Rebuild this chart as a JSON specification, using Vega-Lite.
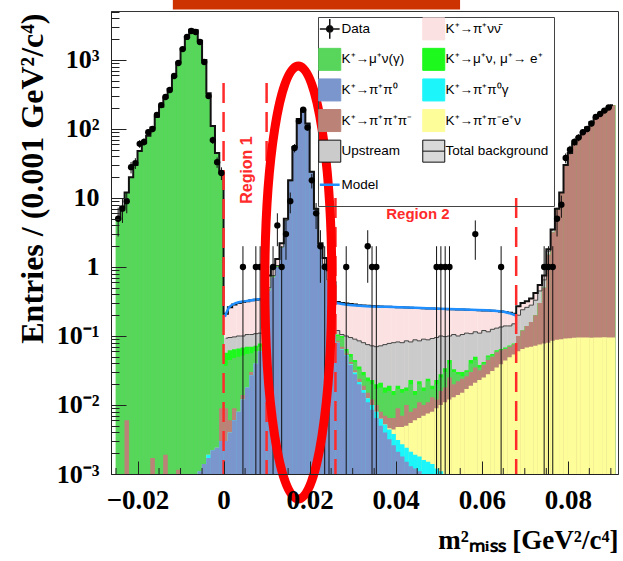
{
"$schema": "https://vega.github.io/schema/vega-lite/v6.json",
"width": 507, "height": 463,
"autosize": {"type": "none"},
"padding": {"left": 111, "top": 11, "right": 5, "bottom": 87},
"background": "white",
"config": {"view": {"stroke": "#333", "strokeWidth": 1}},
"datasets": {
"h": [
{"x":-0.0245,"c1":0,"c2":0,"c3":0,"c4":0,"c5":5,"c6":5,"c7":5,"c8":5},
{"x":-0.0235,"c1":0,"c2":0,"c3":0,"c4":0,"c5":7.5,"c6":7.5,"c7":7.5,"c8":7.5},
{"x":-0.0225,"c1":0,"c2":0,"c3":0,"c4":0.006,"c5":12,"c6":12,"c7":12,"c8":12},
{"x":-0.0215,"c1":0,"c2":0,"c3":0,"c4":0,"c5":20,"c6":20,"c7":20,"c8":20},
{"x":-0.0205,"c1":0,"c2":0,"c3":0,"c4":0,"c5":30,"c6":30,"c7":30,"c8":30},
{"x":-0.0195,"c1":0,"c2":0,"c3":0,"c4":0,"c5":48,"c6":48,"c7":48,"c8":48},
{"x":-0.0185,"c1":0,"c2":0,"c3":0,"c4":0,"c5":62,"c6":62,"c7":62,"c8":62},
{"x":-0.0175,"c1":0,"c2":0,"c3":0,"c4":0,"c5":80,"c6":80,"c7":80,"c8":80},
{"x":-0.0165,"c1":0,"c2":0,"c3":0,"c4":0.0017,"c5":105,"c6":105,"c7":105,"c8":105},
{"x":-0.0155,"c1":0,"c2":0,"c3":0,"c4":0,"c5":150,"c6":150,"c7":150,"c8":150},
{"x":-0.0145,"c1":0,"c2":0,"c3":0,"c4":0,"c5":210,"c6":210,"c7":210,"c8":210},
{"x":-0.0135,"c1":0,"c2":0,"c3":0,"c4":0.0019,"c5":285,"c6":285,"c7":285,"c8":285},
{"x":-0.0125,"c1":0,"c2":0,"c3":0,"c4":0,"c5":380,"c6":380,"c7":380,"c8":380},
{"x":-0.0115,"c1":0,"c2":0,"c3":0,"c4":0,"c5":580,"c6":580,"c7":580,"c8":580},
{"x":-0.0105,"c1":0,"c2":0,"c3":0,"c4":0.00115,"c5":920,"c6":920,"c7":920,"c8":920},
{"x":-0.0095,"c1":0,"c2":0,"c3":0,"c4":0,"c5":1450,"c6":1450,"c7":1450,"c8":1450},
{"x":-0.0085,"c1":0,"c2":0,"c3":0,"c4":0,"c5":2150,"c6":2150,"c7":2150,"c8":2150},
{"x":-0.0075,"c1":0,"c2":0,"c3":0,"c4":0,"c5":2750,"c6":2750,"c7":2750,"c8":2750},
{"x":-0.0065,"c1":0,"c2":0,"c3":0,"c4":0,"c5":2700,"c6":2700,"c7":2700,"c8":2700},
{"x":-0.0055,"c1":0.0011,"c2":0.0011,"c3":0.0011,"c4":0.0011,"c5":1900,"c6":1900,"c7":1900,"c8":1900},
{"x":-0.0045,"c1":0.0014,"c2":0.0014,"c3":0.0014,"c4":0.0014,"c5":1000,"c6":1000,"c7":1000,"c8":1000},
{"x":-0.0035,"c1":0.0017,"c2":0.0019,"c3":0.0019,"c4":0.0019,"c5":330,"c6":330,"c7":330,"c8":330},
{"x":-0.0025,"c1":0.0022,"c2":0.0022,"c3":0.0022,"c4":0.0022,"c5":110,"c6":110,"c7":110,"c8":110},
{"x":-0.0015,"c1":0.0024,"c2":0.0024,"c3":0.0024,"c4":0.0024,"c5":45,"c6":45,"c7":45,"c8":45},
{"x":-0.0005,"c1":0.003,"c2":0.003,"c3":0.003,"c4":0.009,"c5":23,"c6":23,"c7":23,"c8":23},
{"x":0.0005,"c1":0.003,"c2":0.003,"c3":0.003,"c4":0.009,"c5":0.037,"c6":0.057,"c7":0.093,"c8":0.21},
{"x":0.0015,"c1":0.004,"c2":0.004,"c3":0.004,"c4":0.006,"c5":0.045,"c6":0.062,"c7":0.095,"c8":0.26},
{"x":0.0025,"c1":0.006,"c2":0.006,"c3":0.006,"c4":0.009,"c5":0.048,"c6":0.064,"c7":0.097,"c8":0.285},
{"x":0.0035,"c1":0.008,"c2":0.008,"c3":0.008,"c4":0.008,"c5":0.05,"c6":0.066,"c7":0.1,"c8":0.3},
{"x":0.0045,"c1":0.012,"c2":0.012,"c3":0.012,"c4":0.014,"c5":0.052,"c6":0.068,"c7":0.1,"c8":0.31},
{"x":0.0055,"c1":0.018,"c2":0.018,"c3":0.018,"c4":0.018,"c5":0.055,"c6":0.07,"c7":0.105,"c8":0.32},
{"x":0.0065,"c1":0.027,"c2":0.027,"c3":0.027,"c4":0.03,"c5":0.056,"c6":0.07,"c7":0.105,"c8":0.33},
{"x":0.0075,"c1":0.04,"c2":0.04,"c3":0.04,"c4":0.04,"c5":0.06,"c6":0.072,"c7":0.108,"c8":0.335},
{"x":0.0085,"c1":0.06,"c2":0.06,"c3":0.06,"c4":0.06,"c5":0.07,"c6":0.078,"c7":0.11,"c8":0.34},
{"x":0.0095,"c1":0.15,"c2":0.15,"c3":0.15,"c4":0.15,"c5":0.16,"c6":0.165,"c7":0.19,"c8":0.45},
{"x":0.0105,"c1":0.45,"c2":0.45,"c3":0.45,"c4":0.46,"c5":0.47,"c6":0.48,"c7":0.5,"c8":0.75},
{"x":0.0115,"c1":0.7,"c2":0.7,"c3":0.7,"c4":0.71,"c5":0.72,"c6":0.73,"c7":0.75,"c8":1.0},
{"x":0.0125,"c1":1.0,"c2":1.0,"c3":1.0,"c4":1.01,"c5":1.02,"c6":1.03,"c7":1.05,"c8":1.3},
{"x":0.0135,"c1":1.9,"c2":1.9,"c3":1.9,"c4":1.91,"c5":1.92,"c6":1.93,"c7":1.95,"c8":2.2},
{"x":0.0145,"c1":4.7,"c2":4.7,"c3":4.7,"c4":4.71,"c5":4.72,"c6":4.73,"c7":4.75,"c8":5.0},
{"x":0.0155,"c1":17.7,"c2":17.7,"c3":17.7,"c4":17.7,"c5":17.7,"c6":17.7,"c7":17.75,"c8":18},
{"x":0.0165,"c1":54.7,"c2":54.7,"c3":54.7,"c4":54.7,"c5":54.7,"c6":54.7,"c7":54.75,"c8":55},
{"x":0.0175,"c1":139.7,"c2":139.7,"c3":139.7,"c4":139.7,"c5":139.7,"c6":139.7,"c7":139.75,"c8":140},
{"x":0.0185,"c1":189.7,"c2":189.7,"c3":189.7,"c4":189.7,"c5":189.7,"c6":189.7,"c7":189.75,"c8":190},
{"x":0.0195,"c1":119.7,"c2":119.7,"c3":119.7,"c4":119.7,"c5":119.7,"c6":119.7,"c7":119.75,"c8":120},
{"x":0.0205,"c1":23.7,"c2":23.7,"c3":23.7,"c4":23.7,"c5":23.7,"c6":23.7,"c7":23.75,"c8":24},
{"x":0.0215,"c1":6.7,"c2":6.7,"c3":6.7,"c4":6.71,"c5":6.72,"c6":6.73,"c7":6.75,"c8":7},
{"x":0.0225,"c1":1.9,"c2":1.9,"c3":1.9,"c4":1.91,"c5":1.92,"c6":1.93,"c7":1.95,"c8":2.2},
{"x":0.0235,"c1":1.05,"c2":1.05,"c3":1.05,"c4":1.06,"c5":1.07,"c6":1.08,"c7":1.1,"c8":1.35},
{"x":0.0245,"c1":0.6,"c2":0.6,"c3":0.6,"c4":0.61,"c5":0.62,"c6":0.63,"c7":0.65,"c8":0.9},
{"x":0.0255,"c1":0.3,"c2":0.3,"c3":0.3,"c4":0.31,"c5":0.32,"c6":0.33,"c7":0.35,"c8":0.6},
{"x":0.0265,"c1":0.08,"c2":0.08,"c3":0.08,"c4":0.085,"c5":0.1,"c6":0.105,"c7":0.12,"c8":0.31},
{"x":0.0275,"c1":0.063,"c2":0.064,"c3":0.064,"c4":0.07,"c5":0.095,"c6":0.1,"c7":0.105,"c8":0.3},
{"x":0.0285,"c1":0.052,"c2":0.053,"c3":0.053,"c4":0.056,"c5":0.06,"c6":0.065,"c7":0.1,"c8":0.295},
{"x":0.0295,"c1":0.038,"c2":0.039,"c3":0.039,"c4":0.042,"c5":0.05,"c6":0.055,"c7":0.095,"c8":0.29},
{"x":0.0305,"c1":0.028,"c2":0.0295,"c3":0.0295,"c4":0.032,"c5":0.042,"c6":0.045,"c7":0.09,"c8":0.285},
{"x":0.0315,"c1":0.02,"c2":0.0215,"c3":0.0215,"c4":0.024,"c5":0.033,"c6":0.036,"c7":0.085,"c8":0.28},
{"x":0.0325,"c1":0.015,"c2":0.0165,"c3":0.0165,"c4":0.019,"c5":0.027,"c6":0.03,"c7":0.08,"c8":0.277},
{"x":0.0335,"c1":0.011,"c2":0.0125,"c3":0.0125,"c4":0.015,"c5":0.022,"c6":0.025,"c7":0.075,"c8":0.274},
{"x":0.0345,"c1":0.0085,"c2":0.01,"c3":0.01,"c4":0.012,"c5":0.02,"c6":0.023,"c7":0.072,"c8":0.272},
{"x":0.0355,"c1":0.0065,"c2":0.008,"c3":0.008,"c4":0.01,"c5":0.017,"c6":0.02,"c7":0.07,"c8":0.27},
{"x":0.0365,"c1":0.005,"c2":0.0063,"c3":0.0063,"c4":0.008,"c5":0.018,"c6":0.021,"c7":0.072,"c8":0.268},
{"x":0.0375,"c1":0.004,"c2":0.0052,"c3":0.0052,"c4":0.007,"c5":0.015,"c6":0.018,"c7":0.075,"c8":0.266},
{"x":0.0385,"c1":0.0032,"c2":0.0044,"c3":0.0046,"c4":0.0065,"c5":0.016,"c6":0.019,"c7":0.078,"c8":0.265},
{"x":0.0395,"c1":0.0026,"c2":0.0038,"c3":0.0044,"c4":0.0065,"c5":0.014,"c6":0.016,"c7":0.08,"c8":0.263},
{"x":0.0405,"c1":0.0021,"c2":0.0031,"c3":0.0048,"c4":0.009,"c5":0.017,"c6":0.019,"c7":0.082,"c8":0.262},
{"x":0.0415,"c1":0.0018,"c2":0.0027,"c3":0.0048,"c4":0.007,"c5":0.015,"c6":0.017,"c7":0.08,"c8":0.26},
{"x":0.0425,"c1":0.0015,"c2":0.0024,"c3":0.005,"c4":0.01,"c5":0.016,"c6":0.018,"c7":0.085,"c8":0.258},
{"x":0.0435,"c1":0.0013,"c2":0.0021,"c3":0.0055,"c4":0.008,"c5":0.02,"c6":0.023,"c7":0.082,"c8":0.256},
{"x":0.0445,"c1":0.0012,"c2":0.0019,"c3":0.006,"c4":0.009,"c5":0.014,"c6":0.016,"c7":0.088,"c8":0.255},
{"x":0.0455,"c1":0.0011,"c2":0.0018,"c3":0.0065,"c4":0.011,"c5":0.02,"c6":0.022,"c7":0.085,"c8":0.254},
{"x":0.0465,"c1":0.0009,"c2":0.0016,"c3":0.007,"c4":0.01,"c5":0.016,"c6":0.018,"c7":0.09,"c8":0.252},
{"x":0.0475,"c1":0.0008,"c2":0.0015,"c3":0.0075,"c4":0.011,"c5":0.022,"c6":0.024,"c7":0.088,"c8":0.25},
{"x":0.0485,"c1":0.0007,"c2":0.0014,"c3":0.008,"c4":0.013,"c5":0.017,"c6":0.019,"c7":0.092,"c8":0.25},
{"x":0.0495,"c1":0.0006,"c2":0.0012,"c3":0.009,"c4":0.012,"c5":0.02,"c6":0.023,"c7":0.095,"c8":0.248},
{"x":0.0505,"c1":0.0005,"c2":0.0011,"c3":0.01,"c4":0.016,"c5":0.025,"c6":0.028,"c7":0.1,"c8":0.247},
{"x":0.0515,"c1":0.0004,"c2":0.001,"c3":0.011,"c4":0.018,"c5":0.03,"c6":0.034,"c7":0.098,"c8":0.246},
{"x":0.0525,"c1":0.0003,"c2":0.0008,"c3":0.012,"c4":0.025,"c5":0.04,"c6":0.045,"c7":0.1,"c8":0.245},
{"x":0.0535,"c1":0.0002,"c2":0.0006,"c3":0.013,"c4":0.02,"c5":0.03,"c6":0.033,"c7":0.105,"c8":0.244},
{"x":0.0545,"c1":0.0001,"c2":0.0004,"c3":0.014,"c4":0.022,"c5":0.028,"c6":0.03,"c7":0.1,"c8":0.243},
{"x":0.0555,"c1":0,"c2":0.0002,"c3":0.015,"c4":0.024,"c5":0.026,"c6":0.03,"c7":0.105,"c8":0.242},
{"x":0.0565,"c1":0,"c2":0,"c3":0.017,"c4":0.026,"c5":0.03,"c6":0.032,"c7":0.11,"c8":0.24},
{"x":0.0575,"c1":0,"c2":0,"c3":0.019,"c4":0.03,"c5":0.04,"c6":0.045,"c7":0.108,"c8":0.239},
{"x":0.0585,"c1":0,"c2":0,"c3":0.021,"c4":0.035,"c5":0.045,"c6":0.05,"c7":0.115,"c8":0.238},
{"x":0.0595,"c1":0,"c2":0,"c3":0.023,"c4":0.032,"c5":0.035,"c6":0.038,"c7":0.11,"c8":0.236},
{"x":0.0605,"c1":0,"c2":0,"c3":0.025,"c4":0.038,"c5":0.04,"c6":0.042,"c7":0.12,"c8":0.235},
{"x":0.0615,"c1":0,"c2":0,"c3":0.028,"c4":0.045,"c5":0.05,"c6":0.052,"c7":0.115,"c8":0.234},
{"x":0.0625,"c1":0,"c2":0,"c3":0.031,"c4":0.05,"c5":0.052,"c6":0.055,"c7":0.125,"c8":0.233},
{"x":0.0635,"c1":0,"c2":0,"c3":0.035,"c4":0.058,"c5":0.06,"c6":0.062,"c7":0.13,"c8":0.23},
{"x":0.0645,"c1":0,"c2":0,"c3":0.039,"c4":0.062,"c5":0.063,"c6":0.065,"c7":0.135,"c8":0.227},
{"x":0.0655,"c1":0,"c2":0,"c3":0.044,"c4":0.065,"c5":0.066,"c6":0.068,"c7":0.14,"c8":0.223},
{"x":0.0665,"c1":0,"c2":0,"c3":0.049,"c4":0.07,"c5":0.071,"c6":0.073,"c7":0.14,"c8":0.218},
{"x":0.0675,"c1":0,"c2":0,"c3":0.054,"c4":0.075,"c5":0.076,"c6":0.078,"c7":0.15,"c8":0.21},
{"x":0.0685,"c1":0,"c2":0,"c3":0.06,"c4":0.1,"c5":0.1,"c6":0.1,"c7":0.2,"c8":0.27},
{"x":0.0695,"c1":0,"c2":0,"c3":0.065,"c4":0.12,"c5":0.12,"c6":0.12,"c7":0.24,"c8":0.3},
{"x":0.0705,"c1":0,"c2":0,"c3":0.068,"c4":0.14,"c5":0.14,"c6":0.14,"c7":0.26,"c8":0.32},
{"x":0.0715,"c1":0,"c2":0,"c3":0.07,"c4":0.16,"c5":0.16,"c6":0.16,"c7":0.28,"c8":0.35},
{"x":0.0725,"c1":0,"c2":0,"c3":0.072,"c4":0.2,"c5":0.2,"c6":0.2,"c7":0.33,"c8":0.42},
{"x":0.0735,"c1":0,"c2":0,"c3":0.075,"c4":0.3,"c5":0.3,"c6":0.3,"c7":0.45,"c8":0.55},
{"x":0.0745,"c1":0,"c2":0,"c3":0.078,"c4":0.5,"c5":0.5,"c6":0.5,"c7":0.65,"c8":0.75},
{"x":0.0755,"c1":0,"c2":0,"c3":0.08,"c4":1.5,"c5":1.5,"c6":1.5,"c7":1.7,"c8":1.8},
{"x":0.0765,"c1":0,"c2":0,"c3":0.085,"c4":3.2,"c5":3.2,"c6":3.2,"c7":3.4,"c8":3.5},
{"x":0.0775,"c1":0,"c2":0,"c3":0.088,"c4":6.8,"c5":6.8,"c6":6.8,"c7":6.9,"c8":7},
{"x":0.0785,"c1":0,"c2":0,"c3":0.09,"c4":12,"c5":12,"c6":12,"c7":12,"c8":12},
{"x":0.0795,"c1":0,"c2":0,"c3":0.092,"c4":30,"c5":30,"c6":30,"c7":30,"c8":30},
{"x":0.0805,"c1":0,"c2":0,"c3":0.093,"c4":45,"c5":45,"c6":45,"c7":45,"c8":45},
{"x":0.0815,"c1":0,"c2":0,"c3":0.094,"c4":60,"c5":60,"c6":60,"c7":60,"c8":60},
{"x":0.0825,"c1":0,"c2":0,"c3":0.095,"c4":75,"c5":75,"c6":75,"c7":75,"c8":75},
{"x":0.0835,"c1":0,"c2":0,"c3":0.095,"c4":90,"c5":90,"c6":90,"c7":90,"c8":90},
{"x":0.0845,"c1":0,"c2":0,"c3":0.095,"c4":105,"c5":105,"c6":105,"c7":105,"c8":105},
{"x":0.0855,"c1":0,"c2":0,"c3":0.094,"c4":125,"c5":125,"c6":125,"c7":125,"c8":125},
{"x":0.0865,"c1":0,"c2":0,"c3":0.095,"c4":145,"c5":145,"c6":145,"c7":145,"c8":145},
{"x":0.0875,"c1":0,"c2":0,"c3":0.095,"c4":165,"c5":165,"c6":165,"c7":165,"c8":165},
{"x":0.0885,"c1":0,"c2":0,"c3":0.096,"c4":185,"c5":185,"c6":185,"c7":185,"c8":185},
{"x":0.0895,"c1":0,"c2":0,"c3":0.095,"c4":205,"c5":205,"c6":205,"c7":205,"c8":205},
{"x":0.0905,"c1":0,"c2":0,"c3":0.095,"c4":220,"c5":220,"c6":220,"c7":220,"c8":220}
],
"d": [
{"x":-0.0245,"n":5,"lo":2.76,"hi":7.24},
{"x":-0.0235,"n":7,"lo":4.35,"hi":9.65},
{"x":-0.0225,"n":9,"lo":6,"hi":12},
{"x":-0.0215,"n":28,"lo":22.7,"hi":33.3},
{"x":-0.0205,"n":32,"lo":26.3,"hi":37.7},
{"x":-0.0195,"n":61,"lo":53.2,"hi":68.8},
{"x":-0.0185,"n":65,"lo":56.9,"hi":73.1},
{"x":-0.0175,"n":90,"lo":80.5,"hi":99.5},
{"x":-0.0165,"n":100,"lo":90,"hi":110},
{"x":-0.0155,"n":160,"lo":147.4,"hi":172.6},
{"x":-0.0145,"n":222,"lo":207.1,"hi":236.9},
{"x":-0.0135,"n":291,"lo":273.9,"hi":308.1},
{"x":-0.0125,"n":367,"lo":347.8,"hi":386.2},
{"x":-0.0115,"n":586,"lo":561.8,"hi":610.2},
{"x":-0.0105,"n":905,"lo":874.9,"hi":935.1},
{"x":-0.0095,"n":1440,"lo":1402,"hi":1478},
{"x":-0.0085,"n":2155,"lo":2109,"hi":2201},
{"x":-0.0075,"n":2630,"lo":2579,"hi":2681},
{"x":-0.0065,"n":2545,"lo":2495,"hi":2595},
{"x":-0.0055,"n":1820,"lo":1777,"hi":1863},
{"x":-0.0045,"n":935,"lo":904.4,"hi":965.6},
{"x":-0.0035,"n":300,"lo":282.7,"hi":317.3},
{"x":-0.0025,"n":69,"lo":60.7,"hi":77.3},
{"x":-0.0015,"n":33,"lo":27.3,"hi":38.7},
{"x":-0.0005,"n":23,"lo":18.2,"hi":27.8},
{"x":0.0045,"n":1,"lo":0,"hi":2},
{"x":0.0075,"n":1,"lo":0,"hi":2},
{"x":0.0085,"n":1,"lo":0,"hi":2},
{"x":0.0115,"n":1,"lo":0,"hi":2},
{"x":0.0125,"n":4,"lo":2,"hi":6},
{"x":0.0135,"n":1,"lo":0,"hi":2},
{"x":0.0145,"n":3,"lo":1.27,"hi":4.73},
{"x":0.0155,"n":9,"lo":6,"hi":12},
{"x":0.0165,"n":53,"lo":45.7,"hi":60.3},
{"x":0.0175,"n":130,"lo":118.6,"hi":141.4},
{"x":0.0185,"n":190,"lo":176.2,"hi":203.8},
{"x":0.0195,"n":105,"lo":94.8,"hi":115.2},
{"x":0.0205,"n":18,"lo":13.76,"hi":22.24},
{"x":0.0215,"n":6,"lo":3.55,"hi":8.45},
{"x":0.0225,"n":2,"lo":0.59,"hi":3.41},
{"x":0.0235,"n":1,"lo":0,"hi":2},
{"x":0.0245,"n":1,"lo":0,"hi":2},
{"x":0.0285,"n":1,"lo":0,"hi":2},
{"x":0.0335,"n":2,"lo":0.59,"hi":3.41},
{"x":0.0345,"n":1,"lo":0,"hi":2},
{"x":0.0355,"n":1,"lo":0,"hi":2},
{"x":0.0495,"n":1,"lo":0,"hi":2},
{"x":0.0505,"n":1,"lo":0,"hi":2},
{"x":0.0515,"n":1,"lo":0,"hi":2},
{"x":0.0525,"n":1,"lo":0,"hi":2},
{"x":0.0585,"n":3,"lo":1.27,"hi":4.73},
{"x":0.0645,"n":1,"lo":0,"hi":2},
{"x":0.0745,"n":1,"lo":0,"hi":2},
{"x":0.0755,"n":1,"lo":0,"hi":2},
{"x":0.0765,"n":1,"lo":0,"hi":2},
{"x":0.0775,"n":5,"lo":2.76,"hi":7.24},
{"x":0.0785,"n":8,"lo":5.17,"hi":10.83},
{"x":0.0795,"n":38,"lo":31.8,"hi":44.2},
{"x":0.0805,"n":50,"lo":42.9,"hi":57.1},
{"x":0.0815,"n":65,"lo":56.9,"hi":73.1},
{"x":0.0825,"n":75,"lo":66.3,"hi":83.7},
{"x":0.0835,"n":90,"lo":80.5,"hi":99.5},
{"x":0.0845,"n":100,"lo":90,"hi":110},
{"x":0.0855,"n":120,"lo":109,"hi":131},
{"x":0.0865,"n":150,"lo":137.8,"hi":162.2},
{"x":0.0875,"n":165,"lo":152.2,"hi":177.8},
{"x":0.0885,"n":185,"lo":171.4,"hi":198.6},
{"x":0.0895,"n":205,"lo":190.7,"hi":219.3}
]
},
"layer": [
{"data": {"values": [{"xa": -0.01179, "xb": 0.05496, "ya": 5388, "yb": 9000}]},
 "mark": {"type": "rect", "color": "#cc3300", "clip": false},
 "encoding": {
  "x": {"field": "xa", "type": "quantitative", "scale": {"domain": [-0.025, 0.0905], "nice": false, "zero": false},
   "axis": {"values": [-0.02, 0, 0.02, 0.04, 0.06, 0.08],
    "format": ".2~f",
    "zindex": 2, "domainColor": "#222", "grid": false,
    "ticks": true, "tickColor": "#222", "tickWidth": 1, "tickSize": -13,
    "labelFont": "Liberation Serif", "labelFontWeight": "bold", "labelFontSize": 27, "labelColor": "black",
    "labelPadding": 26,
    "title": "m²ₘᵢₛₛ [GeV²/c⁴]", "titleFont": "Liberation Serif", "titleFontSize": 27, "titleFontWeight": "bold", "titleColor": "black",
    "titleX": 507, "titleY": 74, "titleAlign": "right", "titleBaseline": "alphabetic", "titleAnchor": "end"}},
  "x2": {"field": "xb"},
  "y": {"field": "ya", "type": "quantitative", "scale": {"type": "log", "domain": [0.001, 5125], "nice": false},
   "axis": {"values": [0.001,0.002,0.003,0.004,0.005,0.006,0.007,0.008,0.009,0.01,0.02,0.03,0.04,0.05,0.06,0.07,0.08,0.09,0.1,0.2,0.3,0.4,0.5,0.6,0.7,0.8,0.9,1,2,3,4,5,6,7,8,9,10,20,30,40,50,60,70,80,90,100,200,300,400,500,600,700,800,900,1000,2000,3000,4000,5000],
    "labelExpr": "datum.value == 1000 ? '10³' : datum.value == 100 ? '10²' : datum.value == 10 ? '10' : datum.value == 1 ? '1' : datum.value == 0.1 ? '10⁻¹' : datum.value == 0.01 ? '10⁻²' : datum.value == 0.001 ? '10⁻³' : ''",
    "zindex": 2, "domainColor": "#222", "grid": false,
    "ticks": true, "tickColor": "#222", "tickWidth": 1, "tickSize": -15,
    "tickDash": {"condition": {"test": "abs(log(datum.value)/LN10 - round(log(datum.value)/LN10)) < 0.001", "value": [20, 0]}, "value": [8, 20]},
    "labelFont": "Liberation Serif", "labelFontWeight": "bold", "labelFontSize": 26, "labelColor": "black",
    "labelPadding": 27, "labelBaseline": "middle", "labelOverlap": false, "labelFlush": false, "labelBound": false,
    "title": "Entries / (0.001 GeV²/c⁴)", "titleFont": "Liberation Serif", "titleFontSize": 32, "titleFontWeight": "bold", "titleColor": "black",
    "titleAngle": -90, "titleX": -69, "titleY": 2, "titleAlign": "right", "titleBaseline": "alphabetic", "titleAnchor": "end"}},
  "y2": {"field": "yb"}
 }},
{"data": {"name": "h"}, "transform": [{"filter": "datum.c8 > 0"}],
 "mark": {"type": "bar", "fill": "#fbe1e1", "size": 4.6, "clip": true},
 "encoding": {"x": {"field": "x", "type": "quantitative", "scale": {"domain": [-0.025, 0.0905], "nice": false, "zero": false}},
  "y": {"field": "c8", "type": "quantitative", "scale": {"type": "log", "domain": [0.001, 5125], "nice": false}}, "y2": {"datum": 0.00001}}},
{"data": {"name": "h"}, "transform": [{"filter": "datum.c7 > 0"}],
 "mark": {"type": "bar", "fill": "#cbcbcb", "size": 4.6, "clip": true},
 "encoding": {"x": {"field": "x", "type": "quantitative", "scale": {"domain": [-0.025, 0.0905], "nice": false, "zero": false}},
  "y": {"field": "c7", "type": "quantitative", "scale": {"type": "log", "domain": [0.001, 5125], "nice": false}}, "y2": {"datum": 0.00001}}},
{"data": {"name": "h"}, "transform": [{"filter": "datum.c6 > 0"}],
 "mark": {"type": "bar", "fill": "#1df81d", "size": 4.6, "clip": true},
 "encoding": {"x": {"field": "x", "type": "quantitative", "scale": {"domain": [-0.025, 0.0905], "nice": false, "zero": false}},
  "y": {"field": "c6", "type": "quantitative", "scale": {"type": "log", "domain": [0.001, 5125], "nice": false}}, "y2": {"datum": 0.00001}}},
{"data": {"name": "h"}, "transform": [{"filter": "datum.c5 > 0"}],
 "mark": {"type": "bar", "fill": "#58d65b", "size": 4.6, "clip": true},
 "encoding": {"x": {"field": "x", "type": "quantitative", "scale": {"domain": [-0.025, 0.0905], "nice": false, "zero": false}},
  "y": {"field": "c5", "type": "quantitative", "scale": {"type": "log", "domain": [0.001, 5125], "nice": false}}, "y2": {"datum": 0.00001}}},
{"data": {"name": "h"}, "transform": [{"filter": "datum.c4 > 0"}],
 "mark": {"type": "bar", "fill": "#bb8277", "size": 4.6, "clip": true},
 "encoding": {"x": {"field": "x", "type": "quantitative", "scale": {"domain": [-0.025, 0.0905], "nice": false, "zero": false}},
  "y": {"field": "c4", "type": "quantitative", "scale": {"type": "log", "domain": [0.001, 5125], "nice": false}}, "y2": {"datum": 0.00001}}},
{"data": {"name": "h"}, "transform": [{"filter": "datum.c3 > 0"}],
 "mark": {"type": "bar", "fill": "#fdfd9a", "size": 4.6, "clip": true},
 "encoding": {"x": {"field": "x", "type": "quantitative", "scale": {"domain": [-0.025, 0.0905], "nice": false, "zero": false}},
  "y": {"field": "c3", "type": "quantitative", "scale": {"type": "log", "domain": [0.001, 5125], "nice": false}}, "y2": {"datum": 0.00001}}},
{"data": {"name": "h"}, "transform": [{"filter": "datum.c2 > 0"}],
 "mark": {"type": "bar", "fill": "#1cf5f9", "size": 4.6, "clip": true},
 "encoding": {"x": {"field": "x", "type": "quantitative", "scale": {"domain": [-0.025, 0.0905], "nice": false, "zero": false}},
  "y": {"field": "c2", "type": "quantitative", "scale": {"type": "log", "domain": [0.001, 5125], "nice": false}}, "y2": {"datum": 0.00001}}},
{"data": {"name": "h"}, "transform": [{"filter": "datum.c1 > 0"}],
 "mark": {"type": "bar", "fill": "#7a96cc", "size": 4.6, "clip": true},
 "encoding": {"x": {"field": "x", "type": "quantitative", "scale": {"domain": [-0.025, 0.0905], "nice": false, "zero": false}},
  "y": {"field": "c1", "type": "quantitative", "scale": {"type": "log", "domain": [0.001, 5125], "nice": false}}, "y2": {"datum": 0.00001}}},
{"data": {"name": "h"}, "transform": [{"filter": "datum.x > 0 && datum.x < 0.077"}],
 "mark": {"type": "line", "interpolate": "step", "color": "#444", "strokeWidth": 1, "clip": true},
 "encoding": {"x": {"field": "x", "type": "quantitative", "scale": {"domain": [-0.025, 0.0905], "nice": false, "zero": false}},
  "y": {"field": "c7", "type": "quantitative", "scale": {"type": "log", "domain": [0.001, 5125], "nice": false}}}},
{"data": {"name": "h"},
 "mark": {"type": "line", "interpolate": "step", "color": "#111", "strokeWidth": 2, "clip": true},
 "encoding": {"x": {"field": "x", "type": "quantitative", "scale": {"domain": [-0.025, 0.0905], "nice": false, "zero": false}},
  "y": {"field": "c8", "type": "quantitative", "scale": {"type": "log", "domain": [0.001, 5125], "nice": false}}}},
{"data": {"values": [
  {"x": 0.0003, "y": 0.19, "s": 1}, {"x": 0.0013, "y": 0.26, "s": 1}, {"x": 0.0028, "y": 0.30, "s": 1}, {"x": 0.0051, "y": 0.32, "s": 1}, {"x": 0.0082, "y": 0.34, "s": 1}, {"x": 0.0095, "y": 0.345, "s": 1},
  {"x": 0.0262, "y": 0.30, "s": 2}, {"x": 0.0275, "y": 0.291, "s": 2}, {"x": 0.0332, "y": 0.27, "s": 2}, {"x": 0.0408, "y": 0.262, "s": 2}, {"x": 0.0484, "y": 0.25, "s": 2}, {"x": 0.056, "y": 0.242, "s": 2}, {"x": 0.062, "y": 0.234, "s": 2}, {"x": 0.0651, "y": 0.225, "s": 2}, {"x": 0.0678, "y": 0.2, "s": 2}]},
 "mark": {"type": "line", "interpolate": "monotone", "color": "#1f8fff", "strokeWidth": 2.5, "clip": true},
 "encoding": {"x": {"field": "x", "type": "quantitative", "scale": {"domain": [-0.025, 0.0905], "nice": false, "zero": false}},
  "y": {"field": "y", "type": "quantitative", "scale": {"type": "log", "domain": [0.001, 5125], "nice": false}}, "detail": {"field": "s"}}},
{"data": {"values": [{"x": -0.025}, {"x": -0.015}, {"x": -0.01}, {"x": -0.005}, {"x": 0.005}, {"x": 0.01}, {"x": 0.015}, {"x": 0.025}, {"x": 0.03}, {"x": 0.035}, {"x": 0.045}, {"x": 0.05}, {"x": 0.055}, {"x": 0.065}, {"x": 0.07}, {"x": 0.075}, {"x": 0.085}, {"x": 0.09}]},
 "mark": {"type": "rule", "color": "#222", "strokeWidth": 1, "clip": true},
 "encoding": {"x": {"field": "x", "type": "quantitative", "scale": {"domain": [-0.025, 0.0905], "nice": false, "zero": false}},
  "y": {"datum": 0.001, "type": "quantitative", "scale": {"type": "log", "domain": [0.001, 5125], "nice": false}}, "y2": {"datum": 0.00122}}},
{"data": {"values": [{"x": 0, "y": 464}, {"x": 0.01, "y": 464}, {"x": 0.026, "y": 10}, {"x": 0.068, "y": 10}]},
 "mark": {"type": "rule", "color": "#ff2b2b", "strokeWidth": 2.5, "strokeDash": [20, 9], "clip": true},
 "encoding": {"x": {"field": "x", "type": "quantitative", "scale": {"domain": [-0.025, 0.0905], "nice": false, "zero": false}},
  "y": {"field": "y", "type": "quantitative", "scale": {"type": "log", "domain": [0.001, 5125], "nice": false}}, "y2": {"datum": 0.001}}},
{"data": {"values": [{"x": 0.00553, "y": 25.4, "t": "Region 1"}]},
 "mark": {"type": "text", "angle": 270, "font": "Liberation Sans", "fontWeight": "bold", "fontSize": 16, "color": "#ff2b2b", "align": "center", "baseline": "middle"},
 "encoding": {"x": {"field": "x", "type": "quantitative", "scale": {"domain": [-0.025, 0.0905], "nice": false, "zero": false}},
  "y": {"field": "y", "type": "quantitative", "scale": {"type": "log", "domain": [0.001, 5125], "nice": false}}, "text": {"field": "t"}}},
{"data": {"values": [{"x": 0.04517, "y": 5.86, "t": "Region 2"}]},
 "mark": {"type": "text", "font": "Liberation Sans", "fontWeight": "bold", "fontSize": 15, "color": "#ff2b2b", "align": "center", "baseline": "middle"},
 "encoding": {"x": {"field": "x", "type": "quantitative", "scale": {"domain": [-0.025, 0.0905], "nice": false, "zero": false}},
  "y": {"field": "y", "type": "quantitative", "scale": {"type": "log", "domain": [0.001, 5125], "nice": false}}, "text": {"field": "t"}}},
{"data": {"name": "d"}, "transform": [{"calculate": "max(datum.lo, 0.00001)", "as": "lo_c"}],
 "mark": {"type": "rule", "color": "#111", "strokeWidth": 1, "clip": true},
 "encoding": {"x": {"field": "x", "type": "quantitative", "scale": {"domain": [-0.025, 0.0905], "nice": false, "zero": false}},
  "y": {"field": "lo_c", "type": "quantitative", "scale": {"type": "log", "domain": [0.001, 5125], "nice": false}}, "y2": {"field": "hi"}}},
{"data": {"name": "d"},
 "mark": {"type": "tick", "orient": "horizontal", "size": 4.4, "thickness": 1, "color": "#111", "opacity": 1, "clip": true},
 "encoding": {"x": {"field": "x", "type": "quantitative", "scale": {"domain": [-0.025, 0.0905], "nice": false, "zero": false}},
  "y": {"field": "n", "type": "quantitative", "scale": {"type": "log", "domain": [0.001, 5125], "nice": false}}}},
{"data": {"name": "d"},
 "mark": {"type": "circle", "size": 40, "opacity": 1, "clip": true},
 "encoding": {"x": {"field": "x", "type": "quantitative", "scale": {"domain": [-0.025, 0.0905], "nice": false, "zero": false}},
  "y": {"field": "n", "type": "quantitative", "scale": {"type": "log", "domain": [0.001, 5125], "nice": false}},
  "color": {"datum": "Data", "type": "nominal",
   "scale": {"domain": ["Data", "K⁺→μ⁺ν(γ)", "K⁺→π⁺π⁰", "K⁺→π⁺π⁺π⁻", "Upstream", "Model", "K⁺→π⁺νν̄", "K⁺→μ⁺ν, μ⁺→ e⁺", "K⁺→π⁺π⁰γ", "K⁺→π⁺π⁻e⁺ν", "Total background"],
    "range": ["#000000", "#58d65b", "#7a96cc", "#bb8277", "#cbcbcb", "#1f8fff", "#fbe1e1", "#1df81d", "#1cf5f9", "#fdfd9a", "#d9d9d9"]},
   "legend": {"orient": "none", "legendX": 207, "legendY": 6, "columns": 2, "title": null,
    "padding": 5, "rowPadding": 3.6, "columnPadding": 8, "symbolSize": 484, "symbolType": "square",
    "labelFont": "Liberation Sans", "labelFontSize": 13.5, "labelColor": "black", "labelOffset": 5, "labelLimit": 200,
    "strokeColor": "#444", "symbolOpacity": 1, "symbolStrokeWidth": 1,
    "encode": {"symbols": {"update": {
      "shape": {"signal": "datum.value === 'Data' ? 'M-0.9,0H0.9M0,-0.9V0.9M0.28,0A0.28,0.28,0,1,1,-0.28,0A0.28,0.28,0,1,1,0.28,0Z' : datum.value === 'Model' ? 'M-0.9,0H0.9M0,-1L0,-1M0,1L0,1' : datum.value === 'Total background' ? 'M-1,-1H1V1H-1ZM-1,0H1' : 'square'"},
      "fill": {"signal": "datum.value === 'Model' ? 'transparent' : scale('color', datum.value)"},
      "stroke": {"signal": "datum.value === 'Upstream' || datum.value === 'Total background' || datum.value === 'Data' ? '#111' : scale('color', datum.value)"},
      "strokeWidth": {"signal": "datum.value === 'Model' ? 2.5 : datum.value === 'Data' ? 1.5 : 1"},
      "opacity": {"value": 1}}}}}}}},
{"data": {"values": [{"x": 0.017373, "y": 0.5957}]},
 "mark": {"type": "point", "shape": "M-0.1547,0A0.1547,1,0,1,1,0.1547,0A0.1547,1,0,1,1,-0.1547,0Z", "size": 187489, "filled": false, "stroke": "#ff0000", "strokeWidth": 9, "opacity": 1, "clip": false},
 "encoding": {"x": {"field": "x", "type": "quantitative", "scale": {"domain": [-0.025, 0.0905], "nice": false, "zero": false}},
  "y": {"field": "y", "type": "quantitative", "scale": {"type": "log", "domain": [0.001, 5125], "nice": false}}}}
]
}
